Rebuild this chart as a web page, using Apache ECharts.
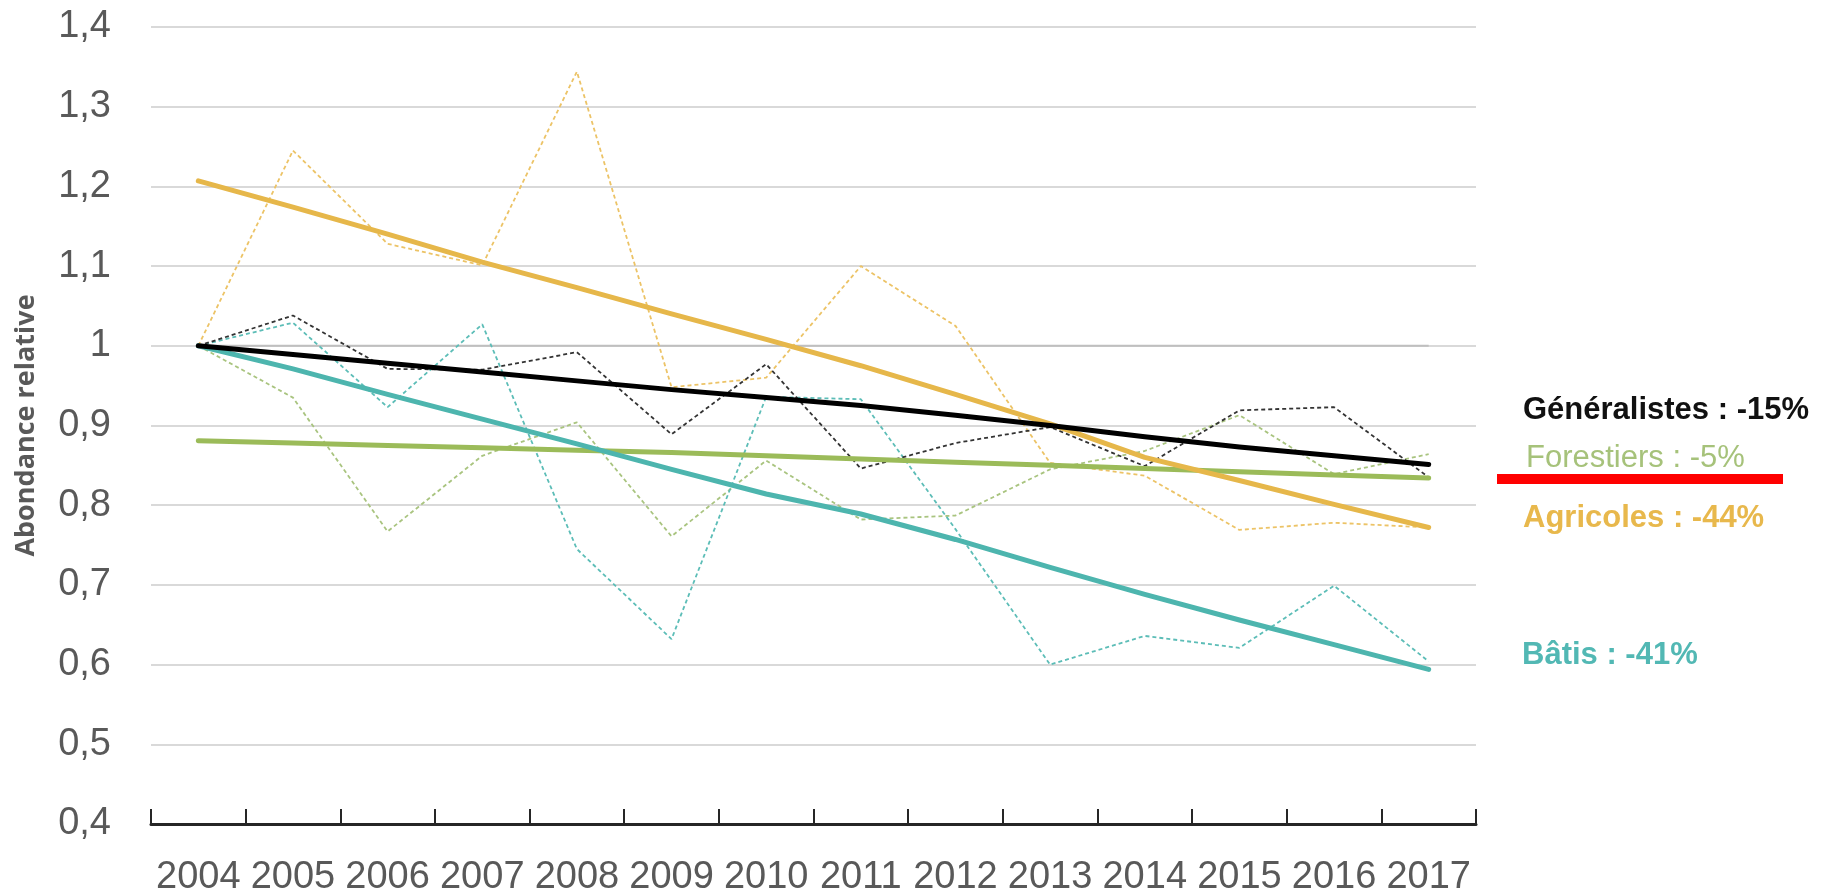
<!DOCTYPE html>
<html>
<head>
<meta charset="utf-8">
<script src="https://cdn.jsdelivr.net/npm/echarts@6/dist/echarts.min.js"></script>
<style>
  html, body { margin: 0; padding: 0; background: #ffffff; }
  #chart { width: 1822px; height: 893px; }
</style>
</head>
<body>
<div id="chart"></div>
<script>
// Years of the survey
const years = ['2004','2005','2006','2007','2008','2009','2010','2011','2012','2013','2014','2015','2016','2017'];

// Yearly relative abundance (index, 2004 = 1)
const generalistesObs = [1.000, 1.038, 0.971, 0.970, 0.992, 0.889, 0.977, 0.846, 0.878, 0.898, 0.849, 0.919, 0.923, 0.835];
const forestiersObs   = [1.000, 0.935, 0.767, 0.862, 0.904, 0.761, 0.856, 0.782, 0.787, 0.845, 0.868, 0.913, 0.839, 0.864];
const agricolesObs    = [1.000, 1.245, 1.128, 1.101, 1.344, 0.948, 0.960, 1.100, 1.025, 0.853, 0.837, 0.769, 0.778, 0.772];
const batisObs        = [1.000, 1.029, 0.923, 1.027, 0.745, 0.632, 0.936, 0.933, 0.770, 0.600, 0.636, 0.621, 0.699, 0.604];

// Fitted trends
const generalistesTrend = [1.000, 0.989, 0.978, 0.967, 0.956, 0.945, 0.935, 0.925, 0.913, 0.900, 0.886, 0.873, 0.862, 0.851];
const forestiersTrend   = [0.881, 0.878, 0.875, 0.872, 0.869, 0.866, 0.862, 0.858, 0.854, 0.850, 0.846, 0.842, 0.838, 0.834];
const agricolesTrend    = [1.207, 1.174, 1.140, 1.105, 1.073, 1.040, 1.008, 0.975, 0.939, 0.902, 0.860, 0.831, 0.801, 0.772];
const batisTrend        = [1.000, 0.971, 0.939, 0.908, 0.877, 0.845, 0.814, 0.789, 0.757, 0.722, 0.688, 0.656, 0.625, 0.594];

// Reference level (2004 = 1)
const baseline = [1, 1, 1, 1, 1, 1, 1, 1, 1, 1, 1, 1, 1, 1];

// Y axis range and step
const yMin = 0.4, yMax = 1.4, yStep = 0.1;

// Group labels on the right
const groupLabels = [
  { text: 'Généralistes : -15%', color: '#111111', weight: 'bold',   x: 1523, y: 413 },
  { text: 'Forestiers : -5%',    color: '#a6c27a', weight: 'normal', x: 1526, y: 461 },
  { text: 'Agricoles : -44%',    color: '#e8b84c', weight: 'bold',   x: 1523, y: 521 },
  { text: 'Bâtis : -41%',        color: '#52b8b4', weight: 'bold',   x: 1522, y: 658 }
];

const COLORS = {
  gen: '#000000', genObs: '#333333',
  for: '#9bbb59', forObs: '#a9c47f',
  agr: '#e6b74a', agrObs: '#ecc366',
  bat: '#4db5ae', batObs: '#5cbdb7'
};

const FONT = '"Liberation Sans", Arial, sans-serif';

function obsSeries(name, data, color) {
  return {
    name: name, type: 'line', data: data, symbol: 'none', z: 3,
    lineStyle: { color: color, width: 1.8, type: [4, 3] },
    emphasis: { disabled: true }
  };
}
function trendSeries(name, data, color, z) {
  return {
    name: name, type: 'line', data: data, symbol: 'none', z: z,
    lineStyle: { color: color, width: 5, cap: 'round', join: 'round' },
    emphasis: { disabled: true }
  };
}

const chart = echarts.init(document.getElementById('chart'), null, { renderer: 'canvas' });

chart.setOption({
  backgroundColor: '#ffffff',
  animation: false,
  grid: { left: 151, right: 346, top: 27, bottom: 69, outerBoundsMode: 'none', containLabel: false },
  xAxis: {
    type: 'category',
    data: years,
    boundaryGap: true,
    axisLine: { show: true, lineStyle: { color: '#262626', width: 3 } },
    axisTick: { show: true, inside: true, interval: 0, length: 15, lineStyle: { color: '#262626', width: 2 } },
    axisLabel: { color: '#595959', fontFamily: FONT, fontSize: 38, margin: 35, interval: 0 },
    splitLine: { show: false }
  },
  yAxis: {
    type: 'value',
    min: yMin, max: yMax, interval: yStep,
    name: 'Abondance relative',
    nameLocation: 'middle',
    nameGap: 111,
    nameRotate: 90,
    nameTextStyle: { color: '#595959', fontFamily: '"Open Sans", ' + FONT, fontWeight: 'bold', fontSize: 27 },
    axisLine: { show: false },
    axisTick: { show: false },
    axisLabel: {
      color: '#595959', fontFamily: FONT, fontSize: 38, margin: 40,
      formatter: v => (Math.round(v * 10) / 10).toString().replace('.', ',')
    },
    splitLine: { show: true, lineStyle: { color: '#d9d9d9', width: 2 } }
  },
  series: [
    {
      name: 'Référence', type: 'line', data: baseline, symbol: 'none', z: 2,
      lineStyle: { color: '#bfbfbf', width: 2 }, emphasis: { disabled: true }
    },
    obsSeries('Agricoles (indice)', agricolesObs, COLORS.agrObs),
    obsSeries('Forestiers (indice)', forestiersObs, COLORS.forObs),
    obsSeries('Bâtis (indice)', batisObs, COLORS.batObs),
    obsSeries('Généralistes (indice)', generalistesObs, COLORS.genObs),
    trendSeries('Forestiers', forestiersTrend, COLORS.for, 5),
    trendSeries('Bâtis', batisTrend, COLORS.bat, 6),
    trendSeries('Agricoles', agricolesTrend, COLORS.agr, 7),
    trendSeries('Généralistes', generalistesTrend, COLORS.gen, 8)
  ],
  graphic: groupLabels.map(l => ({
    type: 'text',
    left: l.x,
    top: l.y - 18,
    style: {
      text: l.text,
      fill: l.color,
      font: l.weight + ' 31px ' + FONT
    }
  })).concat([{
    type: 'rect',
    shape: { x: 1497, y: 474, width: 286, height: 10 },
    style: { fill: '#ff0000' }
  }])
});
</script>
</body>
</html>
